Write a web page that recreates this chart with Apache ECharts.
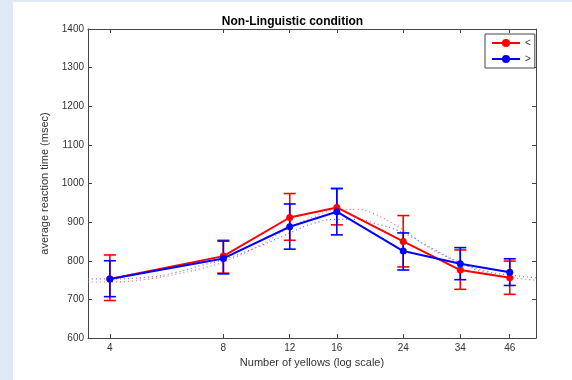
<!DOCTYPE html>
<html>
<head>
<meta charset="utf-8">
<script src="https://cdn.jsdelivr.net/npm/echarts@6/dist/echarts.min.js"></script>
<style>
    html, body { margin: 0; padding: 0; background: #dfe9f5; }
    #main { position: absolute; left: 13px; top: 2px; width: 559px; height: 378px; background: #fff; }
</style>
</head>
<body>
<div id="main"></div>
<script>
// x positions (number of yellows)
const yellows = [4, 8, 12, 16, 24, 34, 46];

// "<" condition (red)
const lessMean = [753, 812, 912, 938, 850, 776, 756];
const lessHigh = [815, 853, 974, 987, 917, 828, 799];
const lessLow  = [697, 768, 853, 893, 784, 726, 713];

// ">" condition (blue)
const moreMean = [753, 806, 888, 927, 825, 792, 770];
const moreHigh = [800, 851, 947, 987, 872, 834, 805];
const moreLow  = [707, 766, 830, 867, 776, 751, 736];

// dotted fit curves
const fitX    = [3.5, 4, 5, 6, 7, 8, 10, 12, 14, 16, 18, 20, 24, 28, 34, 40, 46, 54];
const lessFit = [745, 745, 752, 765, 780, 797, 840, 886, 915, 932, 933, 922, 880, 835, 794, 768, 757, 750];
const moreFit = [753, 753, 757, 770, 788, 803, 838, 872, 898, 907, 907, 898, 872, 837, 795, 772, 763, 756];

const xTicks = [4, 8, 12, 16, 24, 34, 46];

const font = 'Liberation Sans, Arial, sans-serif';

document.addEventListener('DOMContentLoaded', init);

function init() {
    drawChart();
}

function zip(xs, ys) {
    return xs.map((x, i) => [x, ys[i]]);
}

function errorBars(name, color, lo, hi) {
    return {
        name: name + ' err',
        type: 'custom',
        z: 3,
        data: yellows.map((x, i) => [x, lo[i], hi[i]]),
        renderItem: function (params, api) {
            const top = api.coord([api.value(0), api.value(2)]);
            const bot = api.coord([api.value(0), api.value(1)]);
            const w = 6;
            const style = { stroke: color, lineWidth: 1.6 };
            return {
                type: 'group',
                children: [
                    { type: 'line', shape: { x1: top[0], y1: top[1], x2: bot[0], y2: bot[1] }, style: style },
                    { type: 'line', shape: { x1: top[0] - w, y1: top[1], x2: top[0] + w, y2: top[1] }, style: style },
                    { type: 'line', shape: { x1: bot[0] - w, y1: bot[1], x2: bot[0] + w, y2: bot[1] }, style: style }
                ]
            };
        }
    };
}

function drawChart() {
    let myChart = echarts.init(document.getElementById('main'));

    const xCommon = {
        type: 'log',
        logBase: 2,
        min: 3.5,
        max: 54,
        axisLine: { show: true, lineStyle: { color: '#444', width: 1 } },
        axisTick: { show: true, inside: true, length: 4, customValues: xTicks, lineStyle: { color: '#444' } },
        splitLine: { show: false },
        minorTick: { show: false }
    };
    const yCommon = {
        type: 'value',
        min: 600,
        max: 1400,
        interval: 100,
        axisLine: { show: true, lineStyle: { color: '#444', width: 1 } },
        axisTick: { show: true, inside: true, length: 4, lineStyle: { color: '#444' } },
        splitLine: { show: false }
    };

    let option = {
        animation: false,
        backgroundColor: '#fff',
        title: {
            text: 'Non-Linguistic condition',
            left: 'center',
            top: 9,
            textStyle: { fontFamily: font, fontSize: 12, fontWeight: 'bold', color: '#000' }
        },
        legend: {
            data: ['<', '>'],
            orient: 'vertical',
            left: 472,
            top: 32,
            padding: [4, 4, 4, 6],
            itemGap: 6,
            itemWidth: 28,
            itemHeight: 10,
            borderColor: '#444',
            borderWidth: 1,
            backgroundColor: '#fff',
            textStyle: { fontFamily: font, fontSize: 10, color: '#333' }
        },
        grid: { left: 75, right: 36, top: 27, bottom: 42 },
        xAxis: [
            Object.assign({}, xCommon, {
                position: 'bottom',
                name: 'Number of yellows (log scale)',
                nameLocation: 'middle',
                nameGap: 17,
                nameTextStyle: { fontFamily: font, fontSize: 11, color: '#333' },
                axisLabel: {
                    show: true,
                    customValues: xTicks,
                    margin: 5,
                    fontFamily: font,
                    fontSize: 10,
                    color: '#333'
                }
            }),
            Object.assign({}, xCommon, { position: 'top', axisLabel: { show: false } })
        ],
        yAxis: [
            Object.assign({}, yCommon, {
                position: 'left',
                name: 'average reaction time (msec)',
                nameLocation: 'middle',
                nameGap: 28,
                nameTextStyle: { fontFamily: font, fontSize: 11, color: '#333' },
                axisLabel: {
                    margin: 4,
                    fontFamily: font,
                    fontSize: 10,
                    color: '#333',
                    formatter: function (value) {
                        return String(value);
                    }
                }
            }),
            Object.assign({}, yCommon, { position: 'right', axisLabel: { show: false } })
        ],
        series: [
            {
                name: '< fit',
                type: 'line',
                data: zip(fitX, lessFit),
                showSymbol: false,
                smooth: true,
                lineStyle: { color: '#ff6a6a', width: 1.2, type: [1, 3] },
                z: 1
            },
            {
                name: '> fit',
                type: 'line',
                data: zip(fitX, moreFit),
                showSymbol: false,
                smooth: true,
                lineStyle: { color: '#6a6aff', width: 1.2, type: [1, 3] },
                z: 1
            },
            errorBars('<', '#ff0000', lessLow, lessHigh),
            {
                name: '<',
                type: 'line',
                data: zip(yellows, lessMean),
                symbol: 'circle',
                symbolSize: 7,
                color: '#ff0000',
                lineStyle: { color: '#ff0000', width: 2 },
                z: 4
            },
            errorBars('>', '#0000ff', moreLow, moreHigh),
            {
                name: '>',
                type: 'line',
                data: zip(yellows, moreMean),
                symbol: 'circle',
                symbolSize: 7,
                color: '#0000ff',
                lineStyle: { color: '#0000ff', width: 2 },
                z: 5
            }
        ]
    };

    myChart.setOption(option);
}
</script>
</body>
</html>
